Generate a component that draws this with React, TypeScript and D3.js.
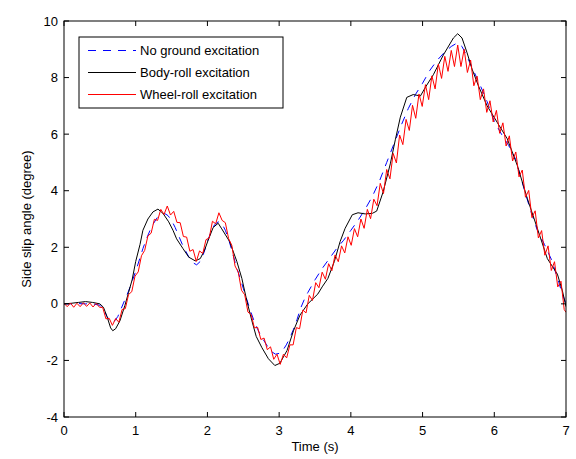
import React from "react";
import * as d3 from "d3";

// ---- data ----
const xTickValues = [0, 1, 2, 3, 4, 5, 6, 7];
const yTickValues = [-4, -2, 0, 2, 4, 6, 8, 10];

const seriesNames = ["No ground excitation", "Body-roll excitation", "Wheel-roll excitation"];

// No ground excitation (blue dashed)
const blueTime = [0, 0.1, 0.2, 0.3, 0.4, 0.5, 0.55, 0.6, 0.65, 0.7, 0.75, 0.8, 0.85, 0.9, 0.95, 1.0, 1.05, 1.1, 1.15, 1.2, 1.25, 1.3, 1.35, 1.4, 1.45, 1.5, 1.55, 1.6, 1.65, 1.7, 1.75, 1.8, 1.85, 1.9, 1.95, 2.0, 2.05, 2.1, 2.15, 2.2, 2.25, 2.3, 2.35, 2.4, 2.45, 2.5, 2.55, 2.6, 2.65, 2.7, 2.75, 2.8, 2.85, 2.9, 2.95, 3.0, 3.05, 3.1, 3.15, 3.2, 3.25, 3.3, 3.35, 3.4, 3.5, 3.6, 3.7, 3.8, 3.9, 4.0, 4.1, 4.2, 4.3, 4.4, 4.5, 4.6, 4.7, 4.8, 4.9, 5.0, 5.1, 5.2, 5.3, 5.4, 5.48, 5.55, 5.6, 5.7, 5.8, 5.9, 6.0, 6.1, 6.2, 6.3, 6.4, 6.5, 6.6, 6.7, 6.8, 6.9, 6.95, 7.0];
const blueValue = [0.0, 0.0, 0.01, 0.0, 0.0, -0.05, -0.18, -0.45, -0.65, -0.62, -0.45, -0.15, 0.15, 0.45, 0.8, 1.15, 1.55, 1.95, 2.3, 2.6, 2.85, 3.05, 3.15, 3.2, 3.12, 2.95, 2.7, 2.4, 2.1, 1.85, 1.62, 1.45, 1.38, 1.5, 1.8, 2.2, 2.55, 2.8, 2.9, 2.85, 2.6, 2.25, 1.8, 1.35, 0.95, 0.55, 0.15, -0.25, -0.6, -0.9, -1.15, -1.35, -1.55, -1.7, -1.78, -1.75, -1.65, -1.45, -1.2, -0.9, -0.55, -0.15, 0.15, 0.4, 0.85, 1.25, 1.6, 1.95, 2.25, 2.6, 2.95, 3.35, 3.8, 4.35, 5.0, 5.65, 6.3, 6.9, 7.4, 7.8, 8.25, 8.6, 8.88, 9.1, 9.22, 9.1, 8.85, 8.3, 7.75, 7.15, 6.45, 6.0, 5.6, 5.1, 4.2, 3.35, 2.6, 2.1, 1.55, 0.75, 0.35, 0.0];

// Body-roll excitation (black)
const blackTime = [0, 0.1, 0.2, 0.3, 0.4, 0.5, 0.55, 0.6, 0.65, 0.68, 0.72, 0.78, 0.85, 0.9, 0.95, 1.0, 1.06, 1.1, 1.17, 1.24, 1.31, 1.38, 1.46, 1.52, 1.57, 1.66, 1.74, 1.83, 1.9, 1.96, 2.01, 2.08, 2.15, 2.2, 2.31, 2.41, 2.48, 2.55, 2.62, 2.68, 2.76, 2.85, 2.94, 3.01, 3.11, 3.2, 3.29, 3.4, 3.54, 3.6, 3.68, 3.77, 3.85, 3.92, 4.02, 4.1, 4.2, 4.3, 4.36, 4.45, 4.5, 4.55, 4.62, 4.69, 4.78, 4.87, 4.97, 5.05, 5.15, 5.29, 5.43, 5.49, 5.55, 5.62, 5.69, 5.78, 5.9, 6.04, 6.18, 6.32, 6.46, 6.6, 6.74, 6.88, 6.95, 7.0];
const blackValue = [0.0, 0.02, 0.05, 0.08, 0.05, 0.0, -0.12, -0.45, -0.85, -0.95, -0.88, -0.6, -0.05, 0.4, 0.85, 1.5, 2.1, 2.6, 3.0, 3.25, 3.35, 3.2, 2.9, 2.6, 2.3, 1.95, 1.65, 1.52, 1.6, 1.9, 2.25, 2.7, 2.85, 2.65, 2.2, 1.5, 0.9, 0.1, -0.6, -1.15, -1.55, -1.94, -2.18, -2.1, -1.65, -0.95, -0.4, 0.0, 0.35, 0.6, 0.9, 1.5, 2.2, 2.67, 3.15, 3.22, 3.18, 3.2, 3.28, 3.96, 4.45, 4.95, 5.8, 6.6, 7.3, 7.4, 7.35, 7.7, 8.1, 8.8, 9.4, 9.55, 9.4, 8.88, 8.3, 7.7, 7.0, 6.42, 5.84, 4.9, 3.73, 2.67, 1.6, 1.05, 0.46, -0.1];

// Wheel-roll excitation (red), sampled every 0.045 s
const redStep = 0.045;
const redValue = [
  0.02, -0.1, 0.03, -0.12, 0.02, -0.1, 0.04, -0.09, 0.03, -0.11,
  0.02, -0.12, -0.13, -0.53, -0.51, -0.76, -0.52, -0.65, -0.2, -0.17,
  0.33, 0.43, 0.98, 1.13, 1.7, 1.89, 2.4, 2.5, 2.99, 2.95,
  3.34, 3.16, 3.46, 3.14, 3.27, 2.88, 2.87, 2.38, 2.36, 1.86,
  1.92, 1.5, 1.87, 1.78, 2.27, 2.33, 2.92, 2.83, 3.22, 2.95,
  2.87, 2.31, 2.07, 1.34, 1.12, 0.48, 0.32, -0.29, -0.38, -0.85,
  -0.83, -1.26, -1.21, -1.62, -1.52, -1.96, -1.78, -2.14, -1.78, -1.91,
  -1.45, -1.45, -0.84, -0.88, -0.22, -0.32, 0.3, 0.12, 0.75, 0.57,
  1.12, 0.87, 1.42, 1.17, 1.73, 1.49, 2.05, 1.8, 2.37, 2.07,
  2.66, 2.37, 3.0, 2.67, 3.34, 3.01, 3.7, 3.47, 4.26, 3.9,
  4.75, 4.42, 5.32, 4.98, 5.97, 5.63, 6.52, 6.13, 7.02, 6.56,
  7.42, 6.98, 7.75, 7.22, 8.06, 7.6, 8.48, 7.97, 8.75, 8.22,
  8.96, 8.39, 9.15, 8.39, 9.0, 8.18, 8.62, 7.71, 8.05, 7.22,
  7.6, 6.77, 7.18, 6.43, 6.84, 6.03, 6.4, 5.58, 5.94, 5.05,
  5.37, 4.49, 4.73, 3.77, 4.01, 3.05, 3.29, 2.33, 2.59, 1.72,
  2.05, 1.18, 1.49, 0.6, 0.8, -0.2, -0.3
];

const W = 576;
const H = 459;
const plot = { left: 64, right: 566, top: 21, bottom: 417 };
const FONT = "'Liberation Sans', Arial, Helvetica, sans-serif";

export default function App() {
  const x = d3.scaleLinear().domain([0, 7]).range([plot.left, plot.right]);
  const y = d3.scaleLinear().domain([-4, 10]).range([plot.bottom, plot.top]);

  const line = d3
    .line<[number, number]>()
    .x((d) => x(d[0]))
    .y((d) => y(d[1]));

  const blueData: [number, number][] = blueTime.map((t, i) => [t, blueValue[i]]);
  const blackData: [number, number][] = blackTime.map((t, i) => [t, blackValue[i]]);
  const redData: [number, number][] = redValue.map((v, i) => [Math.min(i * redStep, 7), v]);

  const tickLen = 5;
  const legend = { x: 79, y: 37, w: 204, h: 71 };
  const legendRows = [
    { name: seriesNames[0], color: "#0000ff", dash: "8,7" },
    { name: seriesNames[1], color: "#000000", dash: undefined },
    { name: seriesNames[2], color: "#ff0000", dash: undefined },
  ];

  return (
    <svg
      width={W}
      height={H}
      viewBox={`0 0 ${W} ${H}`}
      style={{ position: "absolute", left: 0, top: 0, background: "#fff" }}
    >
      <rect x={0} y={0} width={W} height={H} fill="#fff" />
      <defs>
        <clipPath id="plotClip">
          <rect x={plot.left} y={plot.top} width={plot.right - plot.left} height={plot.bottom - plot.top} />
        </clipPath>
      </defs>

      {/* series */}
      <g clipPath="url(#plotClip)" fill="none" strokeLinejoin="round">
        <path d={line(blueData) || ""} stroke="#0000ff" strokeWidth={1} strokeDasharray="8,7" />
        <path d={line(blackData) || ""} stroke="#000000" strokeWidth={1} />
        <path d={line(redData) || ""} stroke="#ff0000" strokeWidth={1} />
      </g>

      {/* axes box */}
      <rect
        x={plot.left}
        y={plot.top}
        width={plot.right - plot.left}
        height={plot.bottom - plot.top}
        fill="none"
        stroke="#000"
        strokeWidth={1}
      />

      {/* x ticks */}
      {xTickValues.map((t) => (
        <g key={`xt${t}`}>
          <line x1={x(t)} x2={x(t)} y1={plot.bottom} y2={plot.bottom - tickLen} stroke="#000" />
          <line x1={x(t)} x2={x(t)} y1={plot.top} y2={plot.top + tickLen} stroke="#000" />
          <text x={x(t)} y={plot.bottom + 18} textAnchor="middle" fontFamily={FONT} fontSize={13}>
            {t}
          </text>
        </g>
      ))}

      {/* y ticks */}
      {yTickValues.map((v) => (
        <g key={`yt${v}`}>
          <line x1={plot.left} x2={plot.left + tickLen} y1={y(v)} y2={y(v)} stroke="#000" />
          <line x1={plot.right} x2={plot.right - tickLen} y1={y(v)} y2={y(v)} stroke="#000" />
          <text x={plot.left - 6} y={y(v) + 4.5} textAnchor="end" fontFamily={FONT} fontSize={13}>
            {v}
          </text>
        </g>
      ))}

      {/* axis labels */}
      <text x={(plot.left + plot.right) / 2} y={451} textAnchor="middle" fontFamily={FONT} fontSize={13}>
        Time (s)
      </text>
      <text
        transform={`translate(31, ${(plot.top + plot.bottom) / 2}) rotate(-90)`}
        textAnchor="middle"
        fontFamily={FONT}
        fontSize={13}
      >
        Side slip angle (degree)
      </text>

      {/* legend */}
      <rect x={legend.x} y={legend.y} width={legend.w} height={legend.h} fill="#fff" stroke="#000" strokeWidth={1} />
      {legendRows.map((r, i) => {
        const ly = legend.y + 13.5 + i * 22;
        return (
          <g key={r.name}>
            <line x1={88} x2={136} y1={ly} y2={ly} stroke={r.color} strokeWidth={1} strokeDasharray={r.dash} />
            <text x={140} y={ly + 4.5} fontFamily={FONT} fontSize={13}>
              {r.name}
            </text>
          </g>
        );
      })}
    </svg>
  );
}
